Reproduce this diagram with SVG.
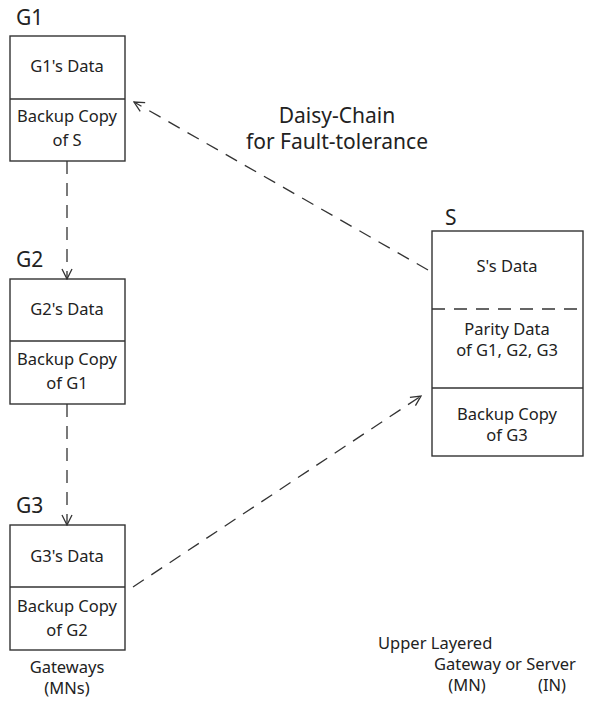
<svg xmlns="http://www.w3.org/2000/svg" width="592" height="701" viewBox="0 0 592 701">
<defs>
<style>
text{font-family:"Noto Sans","Open Sans","DejaVu Sans",sans-serif;fill:#222}
.t{font-size:16.5px;text-anchor:middle}
.h{font-size:21px}
.big{font-size:21px}
.box{fill:#fff;stroke:#333;stroke-width:1.4}
.div{stroke:#333;stroke-width:1.4}
.conn{fill:none;stroke:#333;stroke-width:1.3;stroke-dasharray:13 9}
</style>
<marker id="arr" viewBox="0 0 12 12" refX="11" refY="6" markerWidth="12" markerHeight="12" markerUnits="userSpaceOnUse" orient="auto">
<path d="M1,1 L11,6 L1,11" fill="none" stroke="#333" stroke-width="1.3"/>
</marker>
</defs>
<rect width="592" height="701" fill="#fff"/>
<g id="G1">
<text class="h" x="16" y="25">G1</text>
<rect class="box" x="10" y="36" width="115" height="125"/>
<line class="div" x1="10" y1="99" x2="125" y2="99"/>
<text class="t" x="67" y="72">G1's Data</text>
<text class="t" x="67" y="122">Backup Copy</text>
<text class="t" x="67" y="146">of S</text>
</g>
<g id="G2">
<text class="h" x="16" y="267">G2</text>
<rect class="box" x="10" y="279" width="115" height="125"/>
<line class="div" x1="10" y1="341" x2="125" y2="341"/>
<text class="t" x="67" y="315">G2's Data</text>
<text class="t" x="67" y="365">Backup Copy</text>
<text class="t" x="67" y="389">of G1</text>
</g>
<g id="G3">
<text class="h" x="16" y="513">G3</text>
<rect class="box" x="10" y="525" width="115" height="125"/>
<line class="div" x1="10" y1="587" x2="125" y2="587"/>
<text class="t" x="67" y="562">G3's Data</text>
<text class="t" x="67" y="612">Backup Copy</text>
<text class="t" x="67" y="636">of G2</text>
<text class="t" x="67" y="673">Gateways</text>
<text class="t" x="67" y="694">(MNs)</text>
</g>
<g id="S">
<text class="h" x="445" y="225">S</text>
<rect class="box" x="432" y="231" width="151" height="225"/>
<line class="div" x1="432" y1="309" x2="583" y2="309" stroke-dasharray="13 9"/>
<line class="div" x1="432" y1="388" x2="583" y2="388" stroke-width="2"/>
<text class="t" x="507" y="272">S's Data</text>
<text class="t" x="507" y="335">Parity Data</text>
<text class="t" x="507" y="356">of G1, G2, G3</text>
<text class="t" x="507" y="420">Backup Copy</text>
<text class="t" x="507" y="441">of G3</text>
</g>
<g id="labels">
<text class="t big" x="337" y="123">Daisy-Chain</text>
<text class="t big" x="337" y="149">for Fault-tolerance</text>
<text class="t" x="378" y="649" style="text-anchor:start">Upper Layered</text>
<text class="t" x="434" y="670" style="text-anchor:start">Gateway or Server</text>
<text class="t" x="467" y="691">(MN)</text>
<text class="t" x="552" y="691">(IN)</text>
</g>
<g id="connectors">
<path class="conn" d="M67,161 L67,279" marker-end="url(#arr)"/>
<path class="conn" d="M67,404 L67,525" marker-end="url(#arr)"/>
<path class="conn" d="M428,270 L134,102" marker-end="url(#arr)"/>
<path class="conn" d="M133,587 L421,396" marker-end="url(#arr)"/>
</g>
</svg>
